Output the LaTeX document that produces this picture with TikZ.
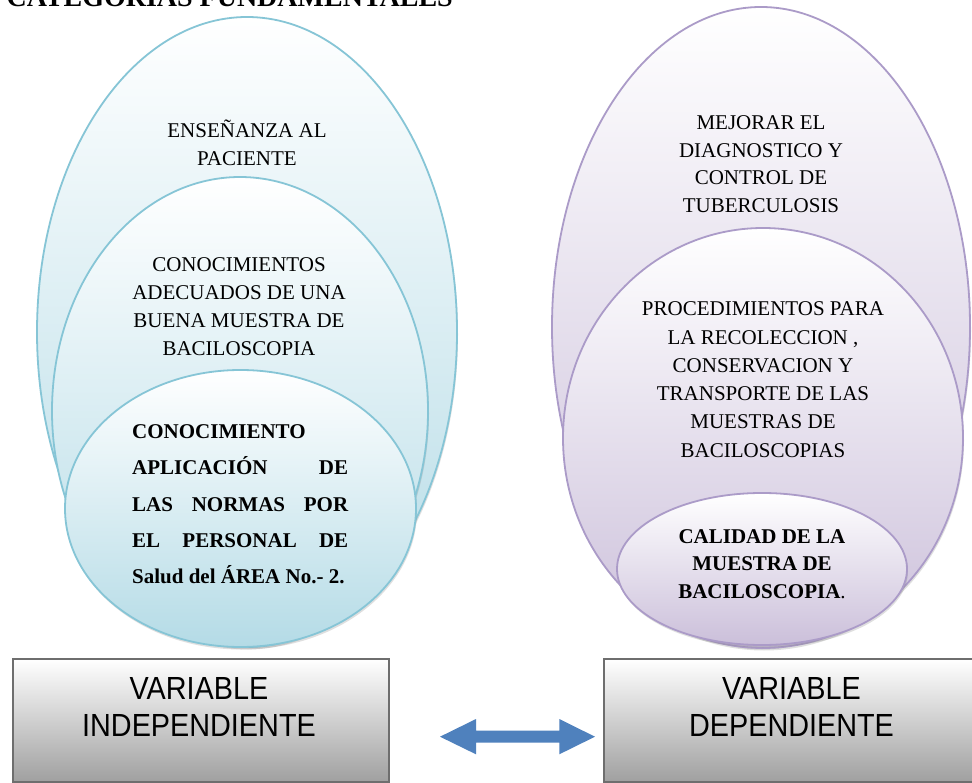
\documentclass[tikz,border=0pt]{standalone}
\usepackage{fontspec}
\setmainfont{Liberation Serif}
\newfontfamily\narrowsans[FakeStretch=0.9]{Liberation Sans}
\usetikzlibrary{shapes.geometric,shadows}
\definecolor{aquaLine}{HTML}{86C5D6}
\definecolor{aquaFill}{HTML}{B4DBE6}
\definecolor{lilacLine}{HTML}{AB9BC8}
\definecolor{lilacFill}{HTML}{CBBFDA}
\definecolor{boxLine}{HTML}{6E6E6E}
\definecolor{boxFill}{HTML}{A0A0A0}
\definecolor{arrowBlue}{HTML}{4F81BD}
\newcommand\ctrlines[2]{\vtop{\baselineskip=#1\lineskiplimit=-100pt\lineskip=0pt\halign{\hfil##\hfil\cr#2\crcr}}}
\newcommand\jline[1]{\hbox to 216pt{#1}}
\begin{document}
\begin{tikzpicture}[x=1pt,y=-1pt,
  aqua/.style={ellipse, draw=aquaLine, line width=1.8pt, top color=white, bottom color=aquaFill, inner sep=0pt,
    drop shadow={shadow xshift=1pt, shadow yshift=-2.5pt, opacity=0.25}},
  lilac/.style={ellipse, draw=lilacLine, line width=1.8pt, top color=white, bottom color=lilacFill, inner sep=0pt,
    drop shadow={shadow xshift=1pt, shadow yshift=-2.5pt, opacity=0.25}},
  varbox/.style={rectangle, draw=boxLine, line width=2pt, top color=white, bottom color=boxFill,
    minimum width=376pt, minimum height=122.5pt, inner sep=0pt},
  txt/.style={inner sep=0pt, anchor=base, text=black, font=\fontsize{21}{28}\selectfont},
  btxt/.style={inner sep=0pt, text=black, font=\bfseries\fontsize{21}{28}\selectfont},
  boxtxt/.style={inner sep=0pt, anchor=base, text=black, font=\narrowsans\fontsize{32}{36}\selectfont}
]
\useasboundingbox (0,0) rectangle (972,783);
\fill[white] (0,0) rectangle (972,783);

% title
\node[anchor=base east, inner sep=0pt, font=\bfseries\fontsize{28}{30}\selectfont] (title) at (453,6.5) {CATEGORIAS FUNDAMENTALES};

% left stacked ellipses
\node[aqua, minimum width=420pt, minimum height=630pt] (L1) at (247,332) {};
\node[aqua, minimum width=376pt, minimum height=468pt] (L2) at (240,411) {};
\node[aqua, minimum width=351pt, minimum height=277pt] (L3) at (240.5,508.5) {};

\node[txt] (L1t) at (247,137.3) {\ctrlines{28pt}{ENSEÑANZA AL\cr PACIENTE}};
\node[txt] (L2t) at (239,272) {\ctrlines{27.9pt}{CONOCIMIENTOS\cr ADECUADOS DE UNA\cr BUENA MUESTRA DE\cr BACILOSCOPIA}};
\node[btxt, anchor=base west] (L3t) at (132,438.3) {\vtop{\baselineskip=36.4pt\lineskiplimit=-100pt\lineskip=0pt
  \jline{CONOCIMIENTO\hfil}
  \jline{APLICACIÓN\hfill DE}
  \jline{LAS\hfill NORMAS\hfill POR}
  \jline{EL\hfill PERSONAL\hfill DE}
  \jline{Salud del ÁREA No.- 2.\hfil}}};

% right stacked ellipses
\node[lilac, minimum width=418pt, minimum height=640pt] (R1) at (761,327) {};
\node[lilac, minimum width=400pt, minimum height=420pt] (R2) at (763,438) {};
\node[lilac, minimum width=290pt, minimum height=152pt] (R3) at (762,569) {};

\node[txt] (R1t) at (761,129.5) {\ctrlines{27.6pt}{MEJORAR EL\cr DIAGNOSTICO Y\cr CONTROL DE\cr TUBERCULOSIS}};
\node[txt] (R2t) at (763,316) {\ctrlines{28.25pt}{PROCEDIMIENTOS PARA\cr LA RECOLECCION ,\cr CONSERVACION Y\cr TRANSPORTE DE LAS\cr MUESTRAS DE\cr BACILOSCOPIAS}};
\node[txt] (R3t) at (762,543.3) {\ctrlines{27.5pt}{\textbf{CALIDAD DE LA}\cr \textbf{MUESTRA DE}\cr \textbf{BACILOSCOPIA}.}};

% boxes
\node[varbox] (VI) at (201,720.4) {};
\node[varbox] (VD) at (791.5,720.4) {};
\node[boxtxt] (VIt) at (199,699.3) {\ctrlines{36.7pt}{VARIABLE\cr INDEPENDIENTE}};
\node[boxtxt] (VDt) at (791.5,699.3) {\ctrlines{36.7pt}{VARIABLE\cr DEPENDIENTE}};

% double arrow
\fill[arrowBlue] (440,736.7) -- (476,719) -- (476,730.7) -- (559.3,730.7) -- (559.3,719) -- (595,736.7)
  -- (559.3,754.3) -- (559.3,742.7) -- (476,742.7) -- (476,754.3) -- cycle;
\end{tikzpicture}
\end{document}
